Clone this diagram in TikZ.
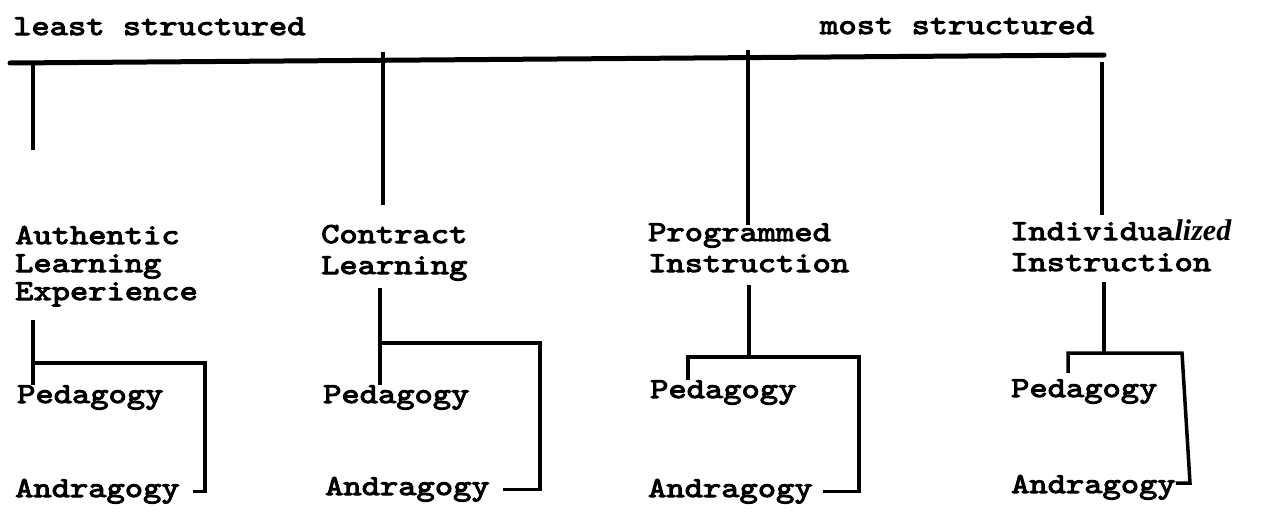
\documentclass[tikz,border=0pt]{standalone}
\usepackage{fontspec}
\setmainfont{Liberation Mono}
\newfontfamily\typew{lmmono10-regular.otf}[FakeStretch=1.2, FakeBold=3.5]
\newfontfamily\handfont{Liberation Serif}
\begin{document}
\begin{tikzpicture}[x=1pt,y=-1pt,
  lbl/.style={anchor=base west, inner sep=0pt, align=left,
    font=\typew\fontsize{29}{31}\selectfont},
  barline/.style={line width=5pt, line cap=round},
  conn/.style={line width=3.5pt}]
\useasboundingbox (0,0) rectangle (1262,514);

% headings
\node[lbl] (least) at (13,35) {least structured};
\node[lbl] (most) at (820,34) {most structured};

% scale bar
\coordinate (barL) at (10,63);
\coordinate (barR) at (1104,55);
\draw[barline] (barL) -- (barR);

% category labels (anchor = baseline of last line)
\node[lbl, font=\typew\fontsize{29}{28}\selectfont] (ale) at (15,300) {Authentic\\Learning\\Experience};
\node[lbl] (cl) at (321,274) {Contract\\Learning};
\node[lbl] (pi) at (648,272) {Programmed\\Instruction};
\node[lbl] (ii) at (1010,271) {Individua{\handfont\itshape\bfseries\fontsize{30}{30}\selectfont lized}\\Instruction};

% pedagogy / andragogy
\node[lbl] (p1) at (17,403) {Pedagogy};
\node[lbl] (a1) at (15,497) {Andragogy};
\node[lbl] (p2) at (323,403) {Pedagogy};
\node[lbl] (a2) at (325,495) {Andragogy};
\node[lbl] (p3) at (650,398) {Pedagogy};
\node[lbl] (a3) at (648,497) {Andragogy};
\node[lbl] (p4) at (1011,397) {Pedagogy};
\node[lbl] (a4) at (1011,493) {Andragogy};

% drops from the scale bar
\coordinate (b1) at (33,63);   \coordinate (d1) at (33,150);
\coordinate (b2) at (383,52);  \coordinate (d2) at (383,205);
\coordinate (b3) at (748,50);  \coordinate (d3) at (748,225);
\coordinate (b4) at (1102,62); \coordinate (d4) at (1102,215);
\draw[conn] (b1) -- (d1);
\draw[conn] (b2) -- (d2);
\draw[conn] (b3) -- (d3);
\draw[conn] (b4) -- (d4);

% column 1
\coordinate (s1) at (33,320);
\coordinate (j1) at (33,363);
\coordinate (r1) at (205,363);
\draw[conn] (s1) -- (p1.north -| s1);
\draw[conn] (j1) -- (r1) |- ([xshift=13pt]a1.east);

% column 2
\coordinate (s2) at (380,288);
\coordinate (j2) at (380,343);
\coordinate (r2) at (540,343);
\draw[conn] (s2) -- (p2.north -| s2);
\draw[conn] (j2) -- (r2) |- ([xshift=13pt]a2.east);

% column 3
\coordinate (s3) at (749,285);
\coordinate (j3) at (749,357);
\coordinate (l3) at (688,357);
\coordinate (r3) at (859,357);
\draw[conn] (s3) -- (j3);
\draw[conn] (p3.north -| l3) -- (l3) -- (r3) |- ([xshift=10pt]a3.east);

% column 4
\coordinate (s4) at (1104,282);
\coordinate (j4) at (1104,353);
\coordinate (l4) at (1068,353);
\coordinate (r4) at (1182,353);
\coordinate (e4) at (1190,483);
\coordinate (f4) at (1068,373);
\draw[conn] (s4) -- (j4);
\draw[conn] (f4) -- (l4) -- (r4) -- (e4) -- (a4.east |- e4);
\end{tikzpicture}
\end{document}
